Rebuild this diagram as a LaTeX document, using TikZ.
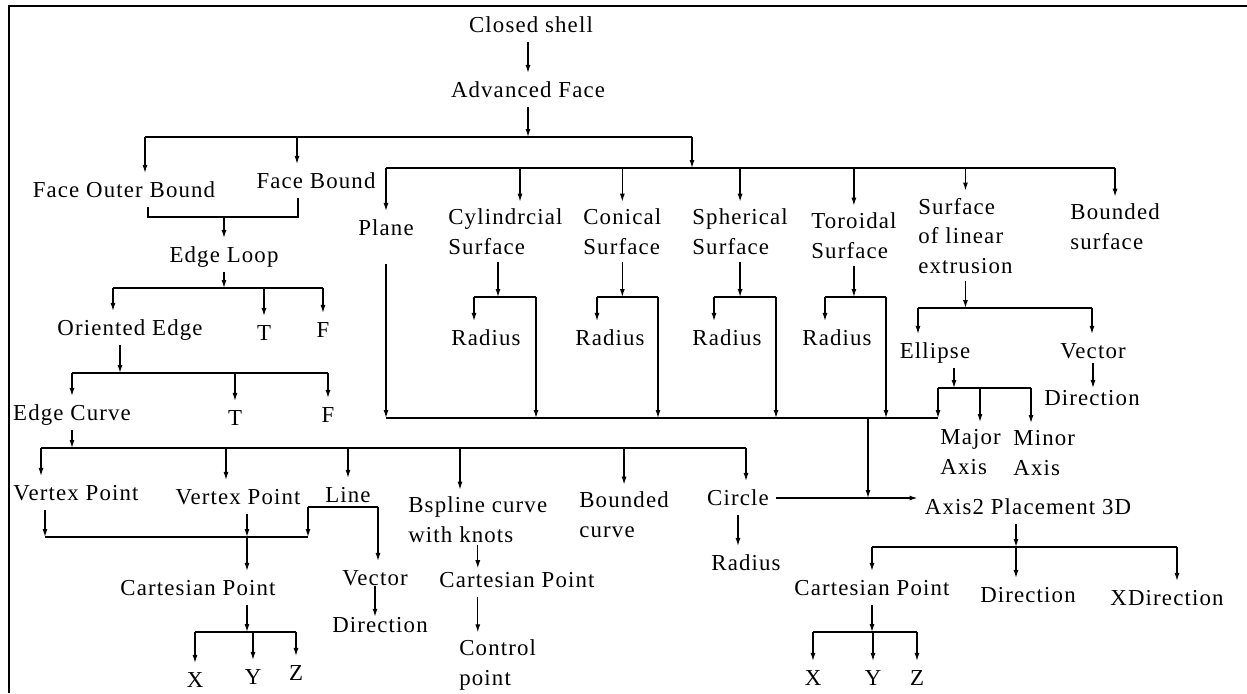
\documentclass[tikz,border=0pt]{standalone}
\usepackage{fontspec}
\setmainfont{Liberation Serif}[LetterSpace=5]
\usetikzlibrary{arrows.meta}

\tikzset{
  txt/.style={font=\fontsize{13}{17}\selectfont, inner sep=4pt, align=left},
  one/.style={txt, text height=9.5pt, text depth=1.5pt},
  arr/.style={-{Latex[length=1.6mm,width=1mm]}, line width=0.7pt},
  bus/.style={line width=0.7pt},
  frame/.style={line width=1.2pt}
}

\begin{document}
\begin{tikzpicture}[x=0.2mm,y=-0.2mm]
		%%%%% START %%%%%
		\useasboundingbox (0,0) rectangle (1247,693);
		\draw[frame] (9,693) -- (9,6) -- (1247,6);
		
		\node[one] (cs) at (531,25) {Closed shell};
		\node[one] (af) at (528,90) {Advanced Face};
		\node[one] (fob) at (124,190) {Face Outer Bound};
		\node[one] (fb) at (316,181) {Face Bound};
		\node[one] (pl) at (386,228) {Plane};
		\node[txt,anchor=west] (cyl) at (441,232) {Cylindrcial\\Surface};
		\node[txt,anchor=west] (con) at (576,232) {Conical\\Surface};
		\node[txt,anchor=west] (sph) at (685,232) {Spherical\\Surface};
		\node[txt,anchor=west] (tor) at (804,236) {Toroidal\\Surface};
		\node[txt,anchor=west] (sle) at (911,236) {Surface\\of linear\\extrusion};
		\node[txt,anchor=west] (bsf) at (1063,227) {Bounded\\surface};
		
		\node[one] (r1) at (486,338) {Radius};
		\node[one] (r2) at (610,338) {Radius};
		\node[one] (r3) at (727,338) {Radius};
		\node[one] (r4) at (837,338) {Radius};
		\node[one] (ell) at (935,351) {Ellipse};
		\node[one] (vec2) at (1093,351) {Vector};
		\node[one] (dir2) at (1092,398) {Direction};
		\node[txt,anchor=west] (maja) at (933,452) {Major\\Axis};
		\node[txt,anchor=west] (mina) at (1006,453) {Minor\\Axis};
		
		\node[one] (el) at (224,255) {Edge Loop};
		\node[one] (oe) at (130,328) {Oriented Edge};
		\node[one] (t1) at (264,333) {T};
		\node[one] (f1) at (323,330) {F};
		\node[one] (ec) at (72,413) {Edge Curve};
		\node[one] (t2) at (235,418) {T};
		\node[one] (f2) at (328,415) {F};
		
		\node[one] (vp1) at (76,493) {Vertex Point};
		\node[one] (vp2) at (238,497) {Vertex Point};
		\node[one] (ln) at (348,495) {Line};
		\node[txt,anchor=west] (bsp) at (401,520) {Bspline curve\\with knots};
		\node[txt,anchor=west] (bc) at (572,515) {Bounded\\curve};
		\node[one] (ci) at (738,498) {Circle};
		\node[one] (rc) at (746,563) {Radius};
		
		\node[one] (cp1) at (198,588) {Cartesian Point};
		\node[one] (vec1) at (375,578) {Vector};
		\node[one] (dir1) at (380,625) {Direction};
		\node[one] (x1) at (195,680) {X};
		\node[one] (y1) at (253,677) {Y};
		\node[one] (z1) at (296,673) {Z};
		\node[one] (cp2) at (517,580) {Cartesian Point};
		\node[txt,anchor=west] (ctl) at (452,665) {Control\\point};
		
		\node[one] (ax) at (1028,507) {Axis2 Placement 3D};
		\node[one] (cp3) at (872,588) {Cartesian Point};
		\node[one] (dir3) at (1028,595) {Direction};
		\node[one] (xd) at (1167,598) {XDirection};
		\node[one] (x3) at (813,678) {X};
		\node[one] (y3) at (873,678) {Y};
		\node[one] (z3) at (917,678) {Z};
		
		% shell and face
		\draw[arr] (af.north |- cs.south) -- (af.north);
		\coordinate (b1a) at (145,137);
		\coordinate (b1b) at (297,137);
		\coordinate (b1c) at (692,137);
		\coordinate (b2) at (692,168);
		\coordinate (b2c) at (520,168);
		\draw[arr] (af.south) -- (af.south |- b1a);
		\draw[bus] (b1a) -- (b1c);
		\draw[arr] (b1a) -- (b1a |- fob.north);
		\draw[arr] (b1b) -- (b1b |- fb.north);
		\draw[arr] (b1c) -- (b2);
		\draw[bus] (b2 -| pl.north) -- (b2 -| bsf.north);
		\draw[arr] (b2 -| pl.north) -- (pl.north);
		\draw[arr] (b2c) -- (b2c |- cyl.north);
		\draw[arr] (b2 -| con.north) -- (con.north);
		\draw[arr] (b2 -| sph.north) -- (sph.north);
		\draw[arr] (b2 -| tor.north) -- (tor.north);
		\draw[arr] (b2 -| sle.north) -- (sle.north);
		\draw[arr] (b2 -| bsf.north) -- (bsf.north);
		
		% bounds to edge loop
		\coordinate (k1) at (148,217);
		\coordinate (k2) at (298,217);
		\draw[bus] (k1 |- fob.south) -- (k1) -- (k2) -- (k2 |- fb.south);
		\draw[arr] (k1 -| el.north) -- (el.north);
		
		\coordinate (b3) at (113,288);
		\draw[arr] (el.south) -- (el.south |- b3);
		\draw[bus] (b3) -- (b3 -| f1.north);
		\draw[arr] (b3) -- (b3 |- oe.north);
		\draw[arr] (b3 -| t1.north) -- (t1.north);
		\draw[arr] (b3 -| f1.north) -- (f1.north);
		
		\coordinate (b4) at (120,373);
		\draw[arr] (b4 |- oe.south) -- (b4);
		\draw[bus] (b4 -| ec.north) -- (b4 -| f2.north);
		\draw[arr] (b4 -| ec.north) -- (ec.north);
		\draw[arr] (b4 -| t2.north) -- (t2.north);
		\draw[arr] (b4 -| f2.north) -- (f2.north);
		
		% edge curve
		\coordinate (e1) at (41,448);
		\coordinate (e2) at (226,448);
		\coordinate (e4) at (460,448);
		\coordinate (e6) at (746,448);
		\draw[arr] (ec.south) -- (ec.south |- e1);
		\draw[bus] (e1) -- (e6);
		\draw[arr] (e1) -- (e1 |- vp1.north);
		\draw[arr] (e2) -- (e2 |- vp2.north);
		\draw[arr] (e1 -| ln.north) -- (ln.north);
		\draw[arr] (e4) -- (e4 |- bsp.north);
		\draw[arr] (e1 -| bc.north) -- (bc.north);
		\draw[arr] (e6) -- (e6 |- ci.north);
		
		\coordinate (g1) at (45,537);
		\coordinate (g2) at (247,537);
		\coordinate (g3) at (308,537);
		\coordinate (h1) at (308,507);
		\coordinate (h2) at (378,507);
		\draw[arr] (g1 |- vp1.south) -- (g1);
		\draw[arr] (g2 |- vp2.south) -- (g2);
		\draw[bus] (g1) -- (g3);
		\draw[arr] (h1) -- (g3);
		\draw[bus] (h1) -- (h2);
		\draw[arr] (h2) -- (h2 |- vec1.north);
		\draw[arr] (g2) -- (g2 |- cp1.north);
		\draw[arr, shorten <=-5pt, shorten >=-5pt] (vec1.south) -- (vec1.south |- dir1.north);
		
		\coordinate (p0) at (247,632);
		\draw[arr] (p0 |- cp1.south) -- (p0);
		\draw[bus] (p0 -| x1.north) -- (p0 -| z1.north);
		\draw[arr] (p0 -| x1.north) -- (x1.north);
		\draw[arr] (p0 -| y1.north) -- (y1.north);
		\draw[arr] (p0 -| z1.north) -- (z1.north);
		
		\draw[arr, shorten <=-3pt, shorten >=-3pt] (bsp.south) -- (bsp.south |- cp2.north);
		\draw[arr] (bsp.south |- cp2.south) -- (bsp.south |- ctl.north);
		
		\draw[arr] (ci.south) -- (ci.south |- rc.north);
		\draw[arr] (ci.east) -- (ci.east -| ax.west);
		
		% surfaces
		\coordinate (u1l) at (474,297); \coordinate (u1m) at (498,297); \coordinate (u1r) at (536,297);
		\coordinate (u2l) at (597,297); \coordinate (u2r) at (658,297);
		\coordinate (u3l) at (714,297); \coordinate (u3r) at (776,297);
		\coordinate (u4l) at (825,297); \coordinate (u4r) at (886,297);
		\coordinate (w1) at (386,418); \coordinate (w2) at (938,418);
		\draw[arr] (u1m |- cyl.south) -- (u1m);
		\draw[bus] (u1l) -- (u1r);
		\draw[arr] (u1l) -- (u1l |- r1.north);
		\draw[arr] (u1r) -- (u1r |- w1);
		\draw[arr] (con.south) -- (con.south |- u2l);
		\draw[bus] (u2l) -- (u2r);
		\draw[arr] (u2l) -- (u2l |- r2.north);
		\draw[arr] (u2r) -- (u2r |- w1);
		\draw[arr] (sph.south) -- (sph.south |- u3l);
		\draw[bus] (u3l) -- (u3r);
		\draw[arr] (u3l) -- (u3l |- r3.north);
		\draw[arr] (u3r) -- (u3r |- w1);
		\draw[arr] (tor.south) -- (tor.south |- u4l);
		\draw[bus] (u4l) -- (u4r);
		\draw[arr] (u4l) -- (u4l |- r4.north);
		\draw[arr] (u4r) -- (u4r |- w1);
		\draw[arr, shorten <=11pt] (pl.south) -- (w1);
		\draw[bus] (w1) -- (w2);
		\coordinate (q) at (868,418);
		\draw[arr] (q) -- (q |- ci.east);
		
		\coordinate (o1) at (918,308); \coordinate (o2) at (1092,308);
		\draw[arr] (sle.south) -- (sle.south |- o1);
		\draw[bus] (o1) -- (o2);
		\draw[arr] (o1) -- (o1 |- ell.north);
		\draw[arr] (o2) -- (o2 |- vec2.north);
		\draw[arr, shorten <=-3pt, shorten >=-4pt] (vec2.south) -- (vec2.south |- dir2.north);
		
		\coordinate (v0) at (954,388); \coordinate (v1) at (938,388);
		\coordinate (v2) at (980,388); \coordinate (v3) at (1031,388);
		\draw[arr] (v0 |- ell.south) -- (v0);
		\draw[bus] (v1) -- (v3);
		\draw[arr] (v1) -- (w2);
		\draw[arr] (v2) -- (v2 |- maja.north);
		\draw[arr] (v3) -- (v3 |- mina.north);
		
		% axis placement
		\coordinate (r0) at (1016,547); \coordinate (r2) at (1177,547);
		\draw[arr] (r0 |- ax.south) -- (r0);
		\draw[bus] (r0 -| cp3.north) -- (r2);
		\draw[arr] (r0 -| cp3.north) -- (cp3.north);
		\draw[arr] (r0) -- (r0 |- dir3.north);
		\draw[arr] (r2) -- (r2 |- xd.north);
		
		\coordinate (s0) at (873,632);
		\draw[arr] (cp3.south) -- (cp3.south |- s0);
		\draw[bus] (s0 -| x3.north) -- (s0 -| z3.north);
		\draw[arr] (s0 -| x3.north) -- (x3.north);
		\draw[arr] (s0 -| y3.north) -- (y3.north);
		\draw[arr] (s0 -| z3.north) -- (z3.north);
		%%%%% END %%%%%
\end{tikzpicture}
\end{document}
